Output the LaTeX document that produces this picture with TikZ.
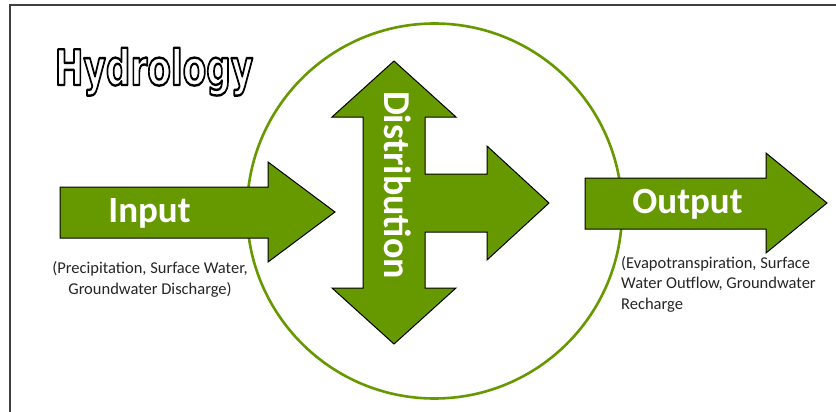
\documentclass[tikz,border=0pt]{standalone}
\usepackage{fontspec}
\setmainfont{Carlito}
\newfontfamily\hydfont{DejaVu Sans}
\definecolor{leaf}{RGB}{102,153,0}
\definecolor{framegray}{RGB}{64,64,64}
\tikzset{
  arrowshape/.style={fill=leaf, draw=black, line width=1pt, line join=miter},
  bigword/.style={text=white, font=\fontsize{37}{40}\selectfont\bfseries, inner sep=0pt},
  smallnote/.style={font=\fontsize{16.5}{20.5}\selectfont, text=black!85, inner sep=0pt},
}
\newcommand{\hydword}{\scalebox{0.70}[1]{\hydfont\bfseries\fontsize{49}{54}\selectfont
  \special{pdf:literal q 0 G 2 Tr 2.4 w 1 j}Hydrology\special{pdf:literal Q}}}
\begin{document}
\begin{tikzpicture}[x=1pt,y=-1pt]
\useasboundingbox (0,0) rectangle (836,412);
\fill[white] (0,0) rectangle (836,412);
% frame
\draw[framegray, line width=1.5pt] (10,412) -- (10,5) -- (836,5);
% circle
\draw[leaf, line width=2.6pt] (434.5,211) circle[radius=187.5];
% input arrow
\draw[arrowshape] (60,187) -- (268,187) -- (268,162) -- (335,212) -- (268,262) -- (268,238) -- (60,238) -- cycle;
% distribution cross
\draw[arrowshape] (394,61) -- (456,117) -- (425,117) -- (425,174) -- (487,174) -- (487,146) -- (549,203)
  -- (487,260) -- (487,232) -- (425,232) -- (425,288) -- (456,288) -- (394,344) -- (332,288)
  -- (363,288) -- (363,117) -- (332,117) -- cycle;
% output arrow
\draw[arrowshape] (585,178) -- (766,178) -- (766,153) -- (827,203) -- (766,253) -- (766,229) -- (585,229) -- cycle;
% labels
\node[bigword] (input) at (149.5,213) {Input};
\node[bigword] (output) at (687.5,204) {Output};
\node[bigword, font=\fontsize{38}{40}\selectfont\bfseries, rotate=-90] (dist) at (398,185) {Distribution};
\node[smallnote, align=center] (innote) at (150,279.5) {(Precipitation, Surface Water,\\Groundwater Discharge)};
\node[smallnote, align=left, anchor=north west] (outnote) at (621,256) {(Evapotranspiration, Surface\\Water Outflow, Groundwater\\Recharge};
% outlined title
\node[anchor=base, inner sep=0pt, text=white] (title) at (154,85) {\hydword};
\end{tikzpicture}
\end{document}
